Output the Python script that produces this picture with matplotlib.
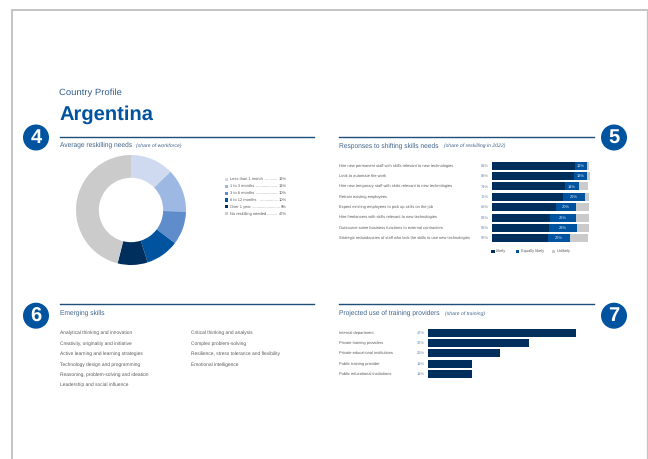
import matplotlib
matplotlib.use("Agg")
import matplotlib.pyplot as plt
from matplotlib.patches import Circle, Rectangle
from matplotlib.lines import Line2D
from matplotlib.transforms import blended_transform_factory as blend

W, H = 648, 459
plt.rcParams['font.family'] = ['Liberation Sans', 'DejaVu Sans']
plt.rcParams['text.hinting'] = 'no_hinting'
plt.rcParams['text.hinting_factor'] = 8

needs_labels = ['Less than 1 month', '1 to 3 months', '3 to 6 months', '6 to 12 months', 'Over 1 year', 'No reskilling needed']
needs_values = [13, 13, 10, 10, 9, 47]
needs_colors = ['#cfdaf1', '#9db8e3', '#5f8ccb', '#00539f', '#002e5d', '#cbcbcb']
needs_dots = [12, 20, 20, 17, 26, 10]

resp_labels = ['Hire new permanent staff with skills relevant to new technologies',
               'Look to automate the work',
               'Hire new temporary staff with skills relevant to new technologies',
               'Retrain existing employees',
               'Expect existing employees to pick up skills on the job',
               'Hire freelancers with skills relevant to new technologies',
               'Outsource some business functions to external contractors',
               'Strategic redundancies of staff who lack the skills to use new technologies']
resp_likely = [84, 83, 74, 72, 65, 59, 58, 57]
resp_equal = [12, 13, 14, 22, 20, 26, 28, 22]
resp_unlikely = [2, 3, 9, 4, 13, 13, 12, 18]

skills_left = ['Analytical thinking and innovation', 'Creativity, originality and initiative',
               'Active learning and learning strategies', 'Technology design and programming',
               'Reasoning, problem-solving and ideation', 'Leadership and social influence']
skills_right = ['Critical thinking and analysis', 'Complex problem-solving',
                'Resilience, stress tolerance and flexibility', 'Emotional intelligence']

prov_labels = ['Internal department', 'Private training providers', 'Private educational institutions',
               'Public training provider', 'Public educational institutions']
prov_values = [47, 32, 23, 14, 14]

BLUE, NAVY, GREY = '#00539f', '#002e5d', '#cbcbcb'
TXT, HEAD, VAL = '#5a5a5a', '#3f648c', '#6c88aa'

fig = plt.figure(figsize=(W / 100, H / 100), dpi=100, facecolor='white')
bg = fig.add_axes([0, 0, 1, 1])
bg.set_xlim(0, W)
bg.set_ylim(H, 0)
bg.axis('off')

def T(x, y, s, size, color=TXT, **kw):
    kw.setdefault('va', 'center')
    return bg.text(x, y, s, fontsize=size, color=color, **kw)

def make_ax(x0, x1, y0, y1):
    return fig.add_axes([x0 / W, 1 - y1 / H, (x1 - x0) / W, (y1 - y0) / H])

# page border
bg.add_line(Line2D([12, 12, 647], [459, 10, 10], color='#c4c4c4', lw=1.4, solid_joinstyle='miter'))
bg.add_line(Line2D([647, 647], [10, 459], color='#c4c4c4', lw=0.9))

# header
T(59.3, 95.5, 'Country Profile', 6.8, color='#2f5d8f', va='baseline')
T(59.3, 120, 'Argentina', 14.5, color=BLUE, va='baseline', fontweight='bold')

# rules, badges, section heads
for x0, x1, y in [(59.5, 314, 136.7), (339, 594, 136.7), (59.5, 314, 303.7), (339, 594, 303.7)]:
    bg.add_line(Line2D([x0, x1], [y, y], color='#1f4e79', lw=1.0))
for cx, cy, n in [(36, 137.5, '4'), (614, 137.5, '5'), (36, 315.7, '6'), (614, 315.7, '7')]:
    bg.add_patch(Circle((cx, cy), 13, color=BLUE, lw=0))
    T(cx, cy + 0.5, n, 14.5, color='white', ha='center', fontweight='bold')

HS, IS = 4.75, 3.7
for x, y, s, xi, si in [(59.5, 146.8, 'Average reskilling needs', 135.7, '(share of workforce)'),
                        (339, 147.2, 'Responses to shifting skills needs', 444, '(share of reskilling in 2022)'),
                        (59.5, 314.4, 'Emerging skills', None, None),
                        (339, 314.6, 'Projected use of training providers', 445, '(share of training)')]:
    T(x, y, s, HS, color=HEAD, va='baseline')
    if si:
        T(xi, y, si, IS, color=HEAD, va='baseline', style='italic')

# donut
ax = make_ax(76, 186, 155, 265)
ax.pie(needs_values, colors=needs_colors, startangle=90, counterclock=False, radius=1,
       wedgeprops=dict(width=0.415, linewidth=0))
ax.set_xlim(-1, 1)
ax.set_ylim(-1, 1)
ax.set_aspect('equal')

LS = 2.85
for y, lab, v, c, nd in zip([179.3, 186.2, 193.1, 200, 206.8, 213.7], needs_labels, needs_values, needs_colors, needs_dots):
    bg.add_patch(Rectangle((224.5, y - 1.6), 3.2, 3.2, color=c, lw=0))
    T(230, y, lab, LS)
    T(286.8, y, f'{v}%', LS, ha='right')
    T(286.8 - (6.4 if v < 10 else 8.6), y, '.' * nd, LS, ha='right')

# stacked bars
ax = make_ax(492, 492 + 98.8, 160.5, 243.5)
ys = list(range(len(resp_labels)))
left2 = [a + b for a, b in zip(resp_likely, resp_equal)]
ax.barh(ys, resp_likely, height=0.78, color=NAVY)
ax.barh(ys, resp_equal, left=resp_likely, height=0.78, color=BLUE)
ax.barh(ys, resp_unlikely, left=left2, height=0.78, color=GREY)
ax.set_xlim(0, 100)
ax.set_ylim(7.5, -0.5)
ax.axis('off')
tr = blend(fig.transFigure, ax.transData)
for i, lab in enumerate(resp_labels):
    ax.text(339 / W, i, lab, transform=tr, fontsize=LS, color=TXT, va='center', clip_on=False)
    ax.text(488.5 / W, i, f'{resp_likely[i]}%', transform=tr, fontsize=LS, color=VAL, va='center', ha='right', clip_on=False)
    ax.text(resp_likely[i] + resp_equal[i] / 2, i, f'{resp_equal[i]}%', fontsize=LS, color='#dfe8f3', va='center', ha='center')

for x, lab, c in [(491.3, 'Likely', NAVY), (516, 'Equally likely', BLUE), (551.7, 'Unlikely', GREY)]:
    bg.add_patch(Rectangle((x, 249.7), 3.4, 3.4, color=c, lw=0))
    T(x + 4.7, 251.4, lab, LS)

# skills list
SS = 3.55
for y, s in zip([332.7, 343.3, 353.7, 364.7, 374.7, 384.7], skills_left):
    T(59.5, y, s, SS)
for y, s in zip([332.7, 343.3, 353.7, 364.7], skills_right):
    T(191, y, s, SS)

# providers
ax = make_ax(428, 428 + 157.4, 327.5, 379.2)
ys = list(range(len(prov_labels)))
ax.barh(ys, prov_values, height=0.78, color=NAVY)
ax.set_xlim(0, 50)
ax.set_ylim(4.5, -0.5)
ax.axis('off')
tr = blend(fig.transFigure, ax.transData)
for i, lab in enumerate(prov_labels):
    ax.text(339 / W, i, lab, transform=tr, fontsize=LS, color=TXT, va='center', clip_on=False)
    ax.text(425 / W, i, f'{prov_values[i]}%', transform=tr, fontsize=LS, color=VAL, va='center', ha='right', clip_on=False)

fig.savefig('out.png', dpi=100)
